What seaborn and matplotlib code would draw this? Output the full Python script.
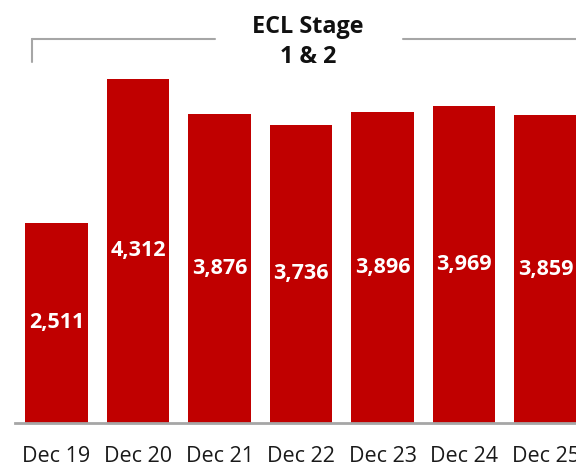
import pandas as pd
import matplotlib.pyplot as plt
import seaborn as sns

# Data
periods = ["Dec 19", "Dec 20", "Dec 21", "Dec 22", "Dec 23", "Dec 24", "Dec 25"]
ecl_values = [2511, 4312, 3876, 3736, 3896, 3969, 3859]
title_lines = ["ECL Stage", "1 & 2"]

df = pd.DataFrame({"period": periods, "ecl": ecl_values})

sns.set_style("white")
plt.rcParams["font.family"] = ["Open Sans", "DejaVu Sans"]

fig = plt.figure(figsize=(5.76, 4.68), dpi=100)
ax = fig.add_axes([15 / 576, 45 / 468, 561 / 576, 423 / 468])

sns.barplot(data=df, x="period", y="ecl", color="#C00000", width=0.77,
            saturation=1, linewidth=0, ax=ax)

ax.set_xlim(-0.51, 6.374)
ax.set_ylim(0, 5300)

# value labels in the middle of each bar
for i, v in enumerate(ecl_values):
    ax.text(i, v / 2, f"{v:,}", ha="center", va="center", color="white",
            fontsize=15.5, fontweight="bold")

for side in ["top", "right", "left"]:
    ax.spines[side].set_visible(False)
ax.spines["bottom"].set_color("#A6A6A6")
ax.spines["bottom"].set_linewidth(2)
ax.set_yticks([])
ax.set_xlabel("")
ax.set_ylabel("")
ax.tick_params(axis="x", length=0, labelsize=15.5, pad=16.5, colors="#1a1a1a")

# bracket with title
grey = "#A6A6A6"
fig.add_artist(plt.Line2D([32 / 576, 32 / 576], [1 - 62 / 468, 1 - 39 / 468],
                          color=grey, lw=1.5))
fig.add_artist(plt.Line2D([32 / 576, 215 / 576], [1 - 39 / 468, 1 - 39 / 468],
                          color=grey, lw=1.5))
fig.add_artist(plt.Line2D([403 / 576, 1.0], [1 - 39 / 468, 1 - 39 / 468],
                          color=grey, lw=1.5))
fig.text(308 / 576, 1 - 33 / 468, title_lines[0], ha="center", va="baseline",
         fontsize=16.8, fontweight="bold", color="#111111")
fig.text(308 / 576, 1 - 63 / 468, title_lines[1], ha="center", va="baseline",
         fontsize=16.8, fontweight="bold", color="#111111")

plt.savefig("out.png", dpi=100)
plt.close()
